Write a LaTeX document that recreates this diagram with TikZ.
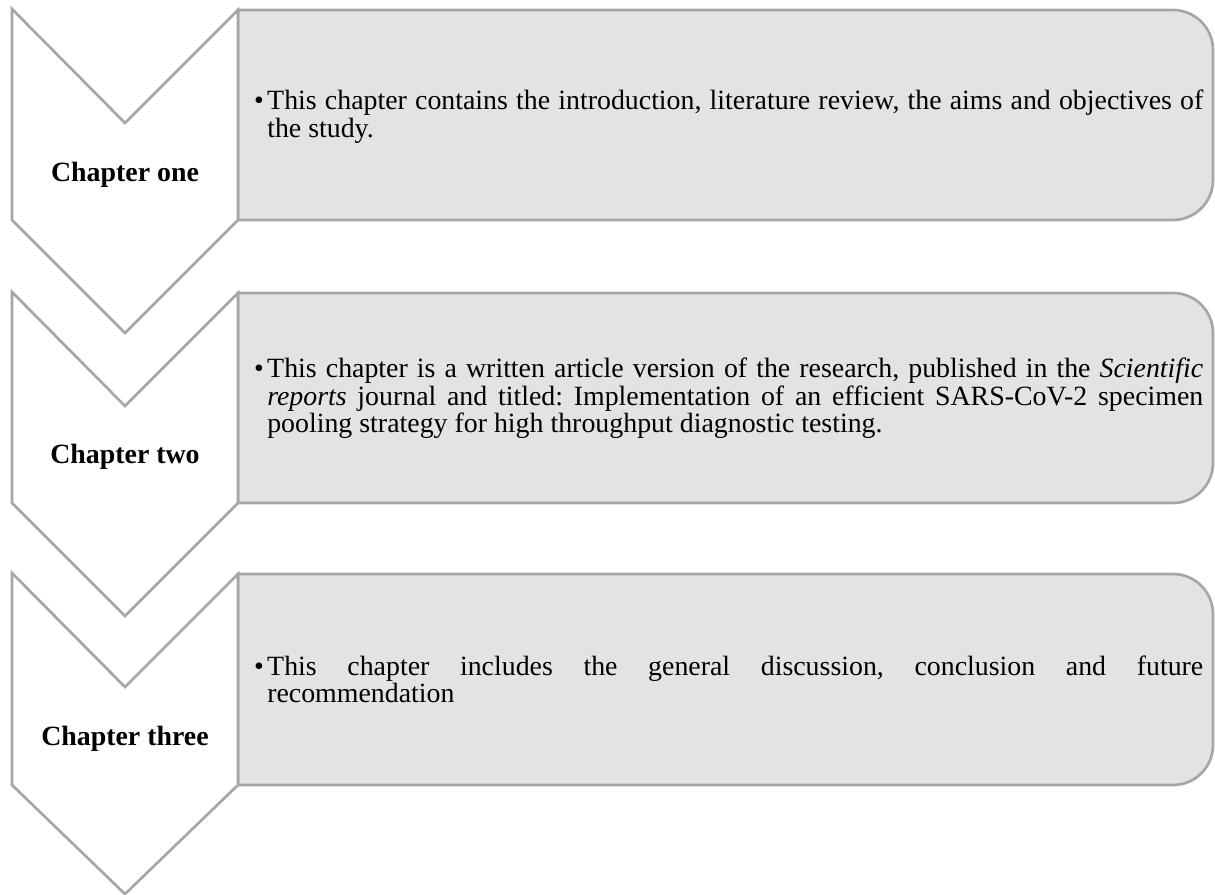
\documentclass[tikz,border=0pt]{standalone}
\usepackage{fontspec}
\setmainfont{Liberation Serif}
\frenchspacing
\definecolor{boxfill}{RGB}{227,227,227}
\definecolor{edge}{RGB}{166,166,166}
\tikzset{
  chev/.style={draw=edge, line width=2pt, fill=white, line join=miter},
  panel/.style={draw=edge, line width=2pt, fill=boxfill},
  label/.style={inner sep=0pt, anchor=base, font=\fontsize{20.9}{20.6}\selectfont\bfseries},
  body/.style={inner sep=0pt, anchor=base west, font=\fontsize{20.9}{20.6}\selectfont},
}
\newcommand{\bodytext}[1]{\parbox[t]{702pt}{\frenchspacing\hbadness=10000\tolerance=10000\hyphenpenalty=10000\exhyphenpenalty=10000\parindent=0pt\leavevmode\llap{\textbullet\kern2.5pt}#1}}
\begin{document}
\begin{tikzpicture}[x=0.75pt,y=-0.75pt]
\useasboundingbox (0,0) rectangle (1215,895);
% right panels
\draw[panel] (238,10) [rounded corners=30] -- (1213,10) -- (1213,220) [sharp corners] -- (238,220) -- cycle;
\draw[panel] (238,293) [rounded corners=30] -- (1213,293) -- (1213,503) [sharp corners] -- (238,503) -- cycle;
\draw[panel] (238,574) [rounded corners=30] -- (1213,574) -- (1213,785) [sharp corners] -- (238,785) -- cycle;
% chevrons
\draw[chev] (12,9) -- (125,123) -- (238,10) -- (238,220) -- (125,333) -- (12,220) -- cycle;
\draw[chev] (12,292) -- (125,406) -- (238,293) -- (238,503) -- (125,616) -- (12,503) -- cycle;
\draw[chev] (12,573) -- (125,687) -- (238,574) -- (238,785) -- (125,894) -- (12,785) -- cycle;
% labels
\node[label] (c1) at (125,182) {Chapter one};
\node[label] (c2) at (125,463) {Chapter two};
\node[label] (c3) at (125,745) {Chapter three};
% body texts
\node[body] (t1) at (267,110) {\bodytext{This chapter contains the introduction, literature review, the aims and objectives of\linebreak the study.}};
\node[body] (t2) at (267,378) {\bodytext{This chapter is a written article version of the research, published in the \textit{Scientific}\linebreak \textit{reports} journal and titled: Implementation of an efficient SARS-CoV-2 specimen\linebreak pooling strategy for high throughput diagnostic testing.}};
\node[body] (t3) at (267,675) {\bodytext{This chapter includes the general discussion, conclusion and future\linebreak recommendation}};
\end{tikzpicture}
\end{document}
